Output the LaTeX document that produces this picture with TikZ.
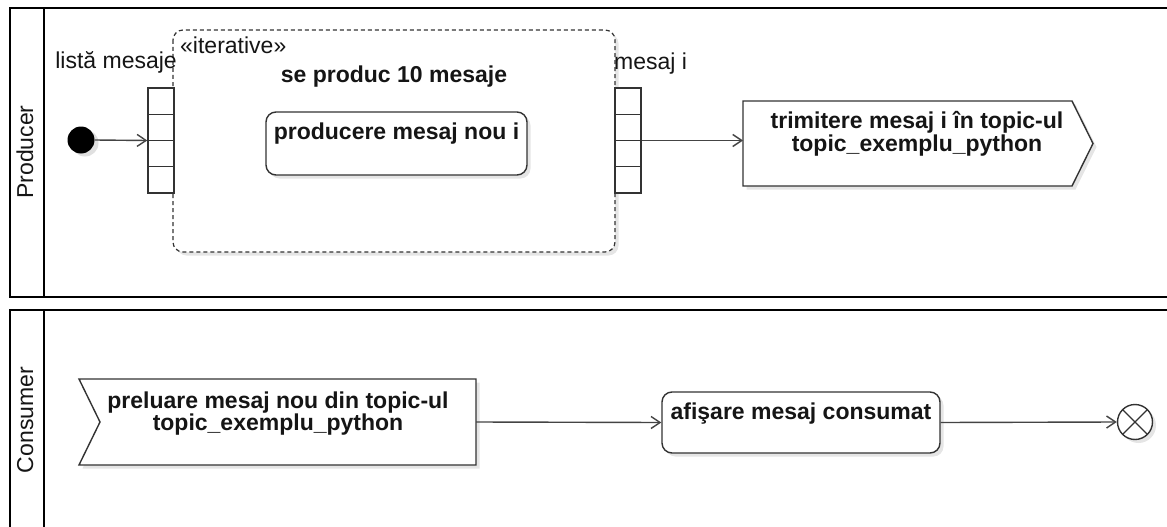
\documentclass[tikz,border=0pt]{standalone}
\usepackage{fontspec}
\setmainfont{Liberation Sans}
\usetikzlibrary{arrows.meta,calc,shadows}

\definecolor{ink}{HTML}{151515}
\definecolor{edge}{HTML}{333333}
\definecolor{wire}{HTML}{444444}

\tikzset{
  x=1pt, y=-1pt,
  txt/.style={font=\fontsize{23}{23}\selectfont, text=ink, inner sep=0pt},
  btxt/.style={txt, font=\fontsize{23}{23}\selectfont\bfseries},
  lane/.style={draw=black, line width=2.2pt},
  soft/.style={general shadow={shadow xshift=3.5pt, shadow yshift=-3.5pt, fill=black, opacity=0.10}},
  actionbox/.style={draw=edge, fill=white, line width=1.4pt, rounded corners=10pt, inner sep=0pt, soft},
  pinbox/.style={draw=edge, fill=white, line width=1.4pt, inner sep=0pt,
    minimum width=26, minimum height=105,
    path picture={
      \foreach \f in {0.25,0.5,0.75}
        \draw[edge, line width=1.4pt]
          ($(path picture bounding box.north west)!\f!(path picture bounding box.south west)$) --
          ($(path picture bounding box.north east)!\f!(path picture bounding box.south east)$);
    }},
  flow/.style={draw=wire, line width=1.4pt, -{Straight Barb[length=9pt, width=12pt, line width=1.4pt]}},
  ghost/.style={inner sep=0pt, outer sep=0pt, draw=none},
}

\begin{document}
\begin{tikzpicture}
\useasboundingbox (0,0) rectangle (1167,527);
\fill[white] (0,0) rectangle (1167,527);

% swimlanes (open on the right and at the bottom)
\draw[lane] (1168,8) -- (10,8) -- (10,297) -- (1168,297);
\draw[lane] (44,8) -- (44,297);
\draw[lane] (1168,310) -- (10,310) -- (10,528);
\draw[lane] (44,310) -- (44,528);
\node[txt, rotate=90, anchor=base] (lblprod) at (33,152) {Producer};
\node[txt, rotate=90, anchor=base] (lblcons) at (33,420) {Consumer};

% expansion region
\draw[draw=edge, line width=1.2pt, dash pattern=on 4pt off 3pt, rounded corners=10pt,
      fill=white, soft] (173,30) rectangle (615,252);
\node[txt, anchor=base west] (stereo) at (180,54) {«iterative»};
\node[btxt, anchor=base] (regtitle) at (394,82) {se produc 10 mesaje};

% initial node
\fill[black!12] (85,143) circle (13.5);
\node[circle, fill=black, minimum size=27, inner sep=0pt] (start) at (81,140) {};

% input / output pins
\node[pinbox] (pinin) at (161,140.5) {};
\node[pinbox] (pinout) at (628,140.5) {};
\node[txt, anchor=base east] (pininlbl) at (177,68) {listă mesaje};
\node[txt, anchor=base west] (pinoutlbl) at (614,70) {mesaj i};

% inner action
\node[actionbox, minimum width=261, minimum height=63] (produce) at (396.5,143.5) {};
\node[btxt, anchor=base] (producetxt) at (396.5,139) {producere mesaj nou i};

% send signal action
\node[ghost, minimum width=350, minimum height=85] (send) at (918,143.5) {};
\draw[draw=edge, fill=white, line width=1.4pt, soft]
  (send.north west) -- ($(send.north east)+(-21,0)$) -- (send.east)
  -- ($(send.south east)+(-21,0)$) -- (send.south west) -- cycle;
\node[btxt, anchor=base] (sendl1) at (917,128) {trimitere mesaj i în topic-ul};
\node[btxt, anchor=base] (sendl2) at (917,151) {topic\_exemplu\_python};

% accept event action
\node[ghost, minimum width=397, minimum height=86] (recv) at (277.5,422) {};
\draw[draw=edge, fill=white, line width=1.4pt, soft]
  (recv.north west) -- (recv.north east) -- (recv.south east)
  -- (recv.south west) -- ($(recv.west)+(21,0)$) -- cycle;
\node[btxt, anchor=base] (recvl1) at (278,408) {preluare mesaj nou din topic-ul};
\node[btxt, anchor=base] (recvl2) at (278,430) {topic\_exemplu\_python};

% display action
\node[actionbox, minimum width=278, minimum height=61] (show) at (801,422.5) {};
\node[btxt, anchor=base] (showtxt) at (801,419) {afişare mesaj consumat};

% flow final
\node[circle, draw=edge, fill=white, line width=1.4pt, minimum size=35, inner sep=0pt, soft,
      path picture={
        \draw[edge, line width=1.2pt]
          (path picture bounding box.north west) -- (path picture bounding box.south east)
          (path picture bounding box.north east) -- (path picture bounding box.south west);
      }] (final) at (1135,422) {};

% control / object flows
\draw[flow] (start.east) -- (pinin.west);
\draw[flow] (pinout.east) -- (pinout.east -| send.west);
\draw[flow] (recv.east) -- (show.west);
\draw[flow] (show.east) -- (final.west);
\end{tikzpicture}
\end{document}
